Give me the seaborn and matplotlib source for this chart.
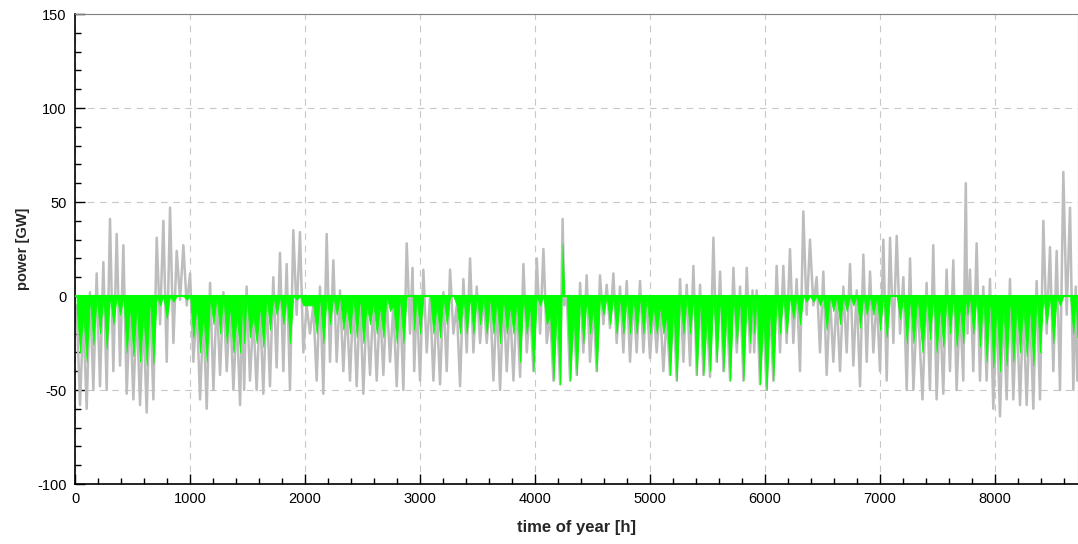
import matplotlib
matplotlib.use('Agg')
import numpy as np
import pandas as pd
import seaborn as sns
import matplotlib.pyplot as plt
from matplotlib.ticker import MultipleLocator

# chunk start hours (each chunk holds one daily high and one low)
chunk_start = [
    0, 58, 116, 174, 232, 290, 348, 406, 464, 522, 580, 638, 696, 754, 812, 870, 928, 986, 1044, 1102, 1160, 1218, 1276, 1334, 1392, 1450,
    1478, 1536, 1594, 1652, 1710, 1768, 1826, 1884, 1942, 2000, 2058, 2116, 2174, 2232, 2290, 2348, 2406, 2464, 2522, 2580, 2638, 2696, 2754, 2812, 2870, 2928,
    2957, 3015, 3073, 3131, 3189, 3247, 3305, 3363, 3421, 3479, 3537, 3595, 3653, 3711, 3769, 3827, 3885, 3943, 4001, 4059, 4117, 4175, 4233, 4262, 4320, 4378,
    4435, 4493, 4551, 4609, 4667, 4725, 4783, 4841, 4899, 4957, 5015, 5073, 5131, 5189, 5247, 5305, 5363, 5421, 5479, 5537, 5595, 5653, 5711, 5769, 5827, 5885,
    5913, 5971, 6029, 6087, 6145, 6203, 6261, 6319, 6377, 6435, 6493, 6551, 6609, 6667, 6725, 6783, 6841, 6899, 6957, 7015, 7073, 7131, 7189, 7247, 7305,
    7391, 7449, 7507, 7565, 7623, 7681, 7739, 7768, 7826, 7884, 7942, 8000, 8058, 8116, 8174, 8232, 8290, 8348, 8406, 8464, 8522, 8580, 8638, 8696,
]
year_end = 8722

# residual load, upper value per chunk [GW]
residual_high = [
    -5, -10, 2, 12, 18, 41, 33, 27, -5, -5, -10, 0, 31, 40, 47, 24, 27, 12, -5, -10, 7, 0, 2, -5, -10, 0,
    5, -10, -5, 0, 10, 23, 17, 35, 34, -5, -5, 5, 33, 19, 3, -5, 0, 0, -5, -3, -5, 0, -5, 0, 28, 15,
    0, 14, 0, -5, 2, 14, -5, 9, 20, 5, 0, 0, -2, 0, -5, -2, 17, -5, 20, 25, -10, -5, 41, 0, -10, 7,
    11, -5, 11, 6, 12, 5, 8, 0, 8, 0, -5, -5, -10, -5, 9, 6, 16, 6, -10, 31, 13, -5, 15, 5, 15, 3,
    3, -10, -5, 16, 16, 25, 9, 45, 30, 10, 13, 0, 0, 5, 17, 3, 22, 13, 0, 30, 31, 32, 10, 20, 0,
    7, 27, -5, 14, 19, -5, 60, 14, 28, 5, 9, -5, -5, 9, -5, -5, -5, 8, 40, 26, 24, 66, 47, 5,
]

# residual load, lower value per chunk [GW]
residual_low = [
    -58, -60, -50, -48, -50, -40, -37, -52, -55, -58, -62, -55, -15, -35, -25, -2, -5, -35, -55, -60, -50, -42, -40, -50, -58, -50,
    -45, -50, -52, -48, -38, -40, -50, -10, -30, -20, -45, -52, -35, -35, -40, -45, -48, -52, -42, -45, -42, -35, -48, -50, -20, -40,
    -45, -30, -45, -47, -40, -20, -48, -30, -30, -25, -25, -45, -50, -40, -45, -43, -30, -40, -20, -25, -45, -47, -5, -45, -42, -30,
    -35, -40, -15, -17, -25, -30, -35, -30, -30, -33, -30, -40, -42, -45, -35, -37, -42, -42, -43, -35, -40, -45, -30, -45, -30, -30,
    -47, -50, -45, -30, -25, -25, -40, -10, -5, -30, -42, -35, -40, -30, -37, -48, -35, -30, -40, -45, -25, -20, -50, -50, -55,
    -50, -55, -52, -40, -50, -45, -20, -40, -45, -45, -60, -64, -55, -55, -58, -58, -60, -55, -20, -40, -50, -10, -50, -45,
]

# green (covered) part at the chunk low [GW]
covered_low = [
    -30, -35, -26, -20, -28, -15, -10, -30, -32, -35, -37, -36, -5, -12, -3, 0, -2, -22, -30, -35, -15, -20, -25, -30, -30, -25,
    -22, -25, -27, -18, -10, -15, -25, -2, -5, -5, -20, -25, -15, -10, -18, -20, -22, -25, -15, -20, -22, -8, -25, -25, 0, -18,
    -20, 0, -20, -22, -15, 0, -20, -20, -20, -15, -20, -20, -25, -20, -20, -35, -20, -40, -5, -15, -45, -47, 0, -45, -42, -25,
    -20, -40, -10, -15, -20, -20, -20, -20, -20, -20, -20, -20, -42, -45, -20, -20, -42, -42, -40, -35, -40, -45, -25, -45, -25, -20,
    -47, -50, -45, -20, -20, -12, -15, -3, -3, -5, -18, -8, -15, -8, -5, -17, -10, -10, -18, -22, 0, -12, -25, -25, -30,
    -23, -30, -27, -20, -27, -25, -10, -20, -27, -35, -38, -40, -37, -35, -30, -32, -37, -30, -15, -25, -5, 0, -20, -22,
]

# the one hour block where the green part goes positive
spike_hour = 4233
spike_value = 28

starts = np.array(chunk_start, dtype=float)
ends = np.append(starts[1:], year_end)
width = ends - starts
hi = np.array(residual_high, dtype=float)
lo = np.array(residual_low, dtype=float)
g_lo = np.array(covered_low, dtype=float)
g_hi = np.minimum(hi, 0)
g_hi[starts == spike_hour] = spike_value

t = np.column_stack([starts + 0.25 * width, starts + 0.75 * width]).ravel()
df = pd.DataFrame({
    'hour': t,
    'residual': np.column_stack([hi, lo]).ravel(),
    'covered': np.column_stack([g_hi, g_lo]).ravel(),
})

sns.set_style("ticks")
plt.rcParams['font.family'] = ['Liberation Sans', 'DejaVu Sans']
plt.rcParams['axes.unicode_minus'] = False

fig = plt.figure(figsize=(10.78, 5.44), dpi=100)
ax = fig.add_axes([75 / 1078, 60 / 544, 1 - 75 / 1078, 470 / 544])

sns.lineplot(data=df, x='hour', y='residual', color='#bdbdbd', lw=1.8,
             estimator=None, sort=False, ax=ax, zorder=2)
ax.fill_between(df['hour'], df['covered'], 0, color='#00ff00', lw=0.6,
                edgecolor='#00ff00', zorder=3)
ax.axhline(0, color='#00ff00', lw=1.5, zorder=4)

ax.set_xlim(0, year_end)
ax.set_ylim(-100, 150)
ax.xaxis.set_major_locator(MultipleLocator(1000))
ax.xaxis.set_minor_locator(MultipleLocator(200))
ax.yaxis.set_major_locator(MultipleLocator(50))
ax.yaxis.set_minor_locator(MultipleLocator(10))
ax.tick_params(which='both', direction='in', top=False, right=False, labelsize=10.5, colors='black')
ax.tick_params(which='major', length=7, width=1, pad=6)
ax.tick_params(which='minor', length=4, width=1)
ax.grid(which='major', color='#c8c8c8', linestyle=(0, (6, 5)), lw=0.8, zorder=1)

for side in ['left', 'bottom']:
    ax.spines[side].set_color('black')
    ax.spines[side].set_linewidth(1.2)
ax.spines['top'].set_color('#808080')
ax.spines['right'].set_color('#808080')

ax.set_xlabel('time of year [h]', fontsize=12, fontweight='bold', labelpad=10)
ax.set_ylabel('power [GW]', fontsize=10.5, fontweight='bold', labelpad=5)

plt.savefig('out.png', dpi=100)
